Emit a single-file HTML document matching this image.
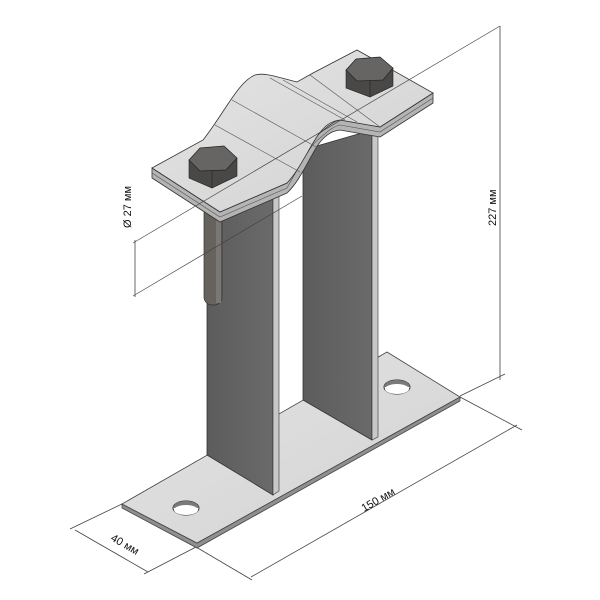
<!DOCTYPE html>
<html><head><meta charset="utf-8"><style>html,body{margin:0;padding:0;background:#fff}svg{display:block}</style></head><body>
<svg width="600" height="600" viewBox="0 0 600 600" xmlns="http://www.w3.org/2000/svg">
<defs>
<linearGradient id="pl" x1="0" y1="0" x2="1" y2="1"><stop offset="0" stop-color="#e4e4e4"/><stop offset="1" stop-color="#d2d2d2"/></linearGradient>
<linearGradient id="post" x1="0" y1="0" x2="1" y2="0"><stop offset="0" stop-color="#5c5c5c"/><stop offset="1" stop-color="#6a6a6a"/></linearGradient>
</defs>
<g stroke="#444" stroke-width="0.8" fill="none">
<line x1="500" y1="26" x2="500" y2="380"/>
<line x1="135" y1="240" x2="135" y2="297"/>
<line x1="460" y1="396" x2="505" y2="374"/>
<line x1="460" y1="397" x2="522" y2="430"/>
<line x1="196" y1="547" x2="252" y2="580"/>
<line x1="517" y1="425" x2="251" y2="577"/>
<line x1="122" y1="504" x2="70" y2="529"/>
<line x1="196" y1="547" x2="144" y2="574"/>
<line x1="75" y1="530" x2="148" y2="572"/>
</g>
<!-- base plate -->
<polygon points="122,504 197,543 460,397 460,401 197,548 122,508" fill="#8f8f8f" stroke="#444" stroke-width="0.8"/>
<polygon points="122,504 387,352 460,397 197,543" fill="url(#pl)" stroke="#444" stroke-width="0.8"/>
<ellipse cx="186" cy="508" rx="13" ry="7" fill="#fff" stroke="#333"/>
<path d="M173,508 a13,7 0 0 1 26,0" fill="#7a7a7a"/>
<ellipse cx="186" cy="510" rx="12" ry="5" fill="#fff"/>
<ellipse cx="397" cy="387" rx="13" ry="7" fill="#fff" stroke="#333"/>
<path d="M384,387 a13,7 0 0 1 26,0" fill="#7a7a7a"/>
<ellipse cx="397" cy="389" rx="12" ry="5" fill="#fff"/>
<!-- right post -->
<polygon points="303,150 372,130 372,440 303,400" fill="url(#post)" stroke="#333" stroke-width="0.8"/>
<polygon points="372,130 378,128 378,437 372,440" fill="#c8c8c8" stroke="#333" stroke-width="0.6"/>
<!-- left post -->
<polygon points="207,200 273,185 273,495 207,455" fill="url(#post)" stroke="#333" stroke-width="0.8"/>
<polygon points="273,185 279,183 279,491 273,495" fill="#c8c8c8" stroke="#333" stroke-width="0.6"/>
<!-- stud -->
<rect x="204" y="205" width="18" height="100" rx="8" fill="#66625e" stroke="#333" stroke-width="0.7"/>
<rect x="216" y="205" width="5" height="98" fill="#7b7874"/>
<!-- clamp edge (thickness) -->
<path d="M152,168 L220,212 L287,183 C300,160 310,140 320,133 C328,126 334,121 340,120 L380,127 L433,93 L433,103 L380,137 L340,130 C330,131 322,138 316,148 C306,165 298,183 287,193 L220,222 L152,178 Z" fill="#b4b4b4" stroke="#333" stroke-width="0.8"/>
<path d="M152,173 L220,217 L287,188 C300,165 310,145 320,138 C328,131 334,126 340,125 L380,132 L433,98" fill="none" stroke="#555" stroke-width="0.6"/>
<!-- clamp top -->
<path d="M152,168 L203,140 C225,112 238,82 255,75 C265,72 280,78 297,82 L313,73 L357,50 L433,93 L380,127 L340,120 C330,121 324,127 318,135 C308,150 298,172 287,183 L220,212 Z" fill="url(#pl)" stroke="#333" stroke-width="0.8"/>
<g stroke="#555" stroke-width="0.6" fill="none">
<line x1="215" y1="125" x2="300" y2="172"/>
<line x1="232" y1="100" x2="318" y2="148"/>
<line x1="270" y1="78" x2="345" y2="120"/>
<line x1="283" y1="80" x2="357" y2="122"/>
<line x1="310" y1="75" x2="380" y2="127"/>
</g>
<!-- left bolt -->
<polygon points="189,160 189,178 212,188 237,176 237,158 212,170" fill="#4a4846" stroke="#222" stroke-width="0.6"/>
<polygon points="189,160 200,148 224,146 237,158 226,170 200,171" fill="#676563" stroke="#222" stroke-width="0.7"/>
<line x1="212" y1="171" x2="212" y2="188" stroke="#222" stroke-width="0.6"/>
<!-- right bolt -->
<polygon points="346,70 346,88 370,97 393,86 393,68 370,80" fill="#4a4846" stroke="#222" stroke-width="0.6"/>
<polygon points="346,70 356,59 380,57 393,68 383,80 357,81" fill="#676563" stroke="#222" stroke-width="0.7"/>
<line x1="370" y1="81" x2="370" y2="97" stroke="#222" stroke-width="0.6"/>
<!-- extension lines over the part -->
<g stroke="#444" stroke-width="0.7" fill="none">
<line x1="500" y1="26" x2="133" y2="243"/>
<line x1="302" y1="196" x2="133" y2="296"/>
</g>
<!-- labels -->
<g font-family="Liberation Sans, sans-serif" font-size="11" fill="#111">
<text transform="translate(131,228) rotate(-90)">Ø 27 мм</text>
<text transform="translate(496,226) rotate(-90)">227 мм</text>
<text transform="translate(364,512) rotate(-30)">150 мм</text>
<text transform="translate(110,540) rotate(30)">40 мм</text>
</g>
</svg>
</body></html>
